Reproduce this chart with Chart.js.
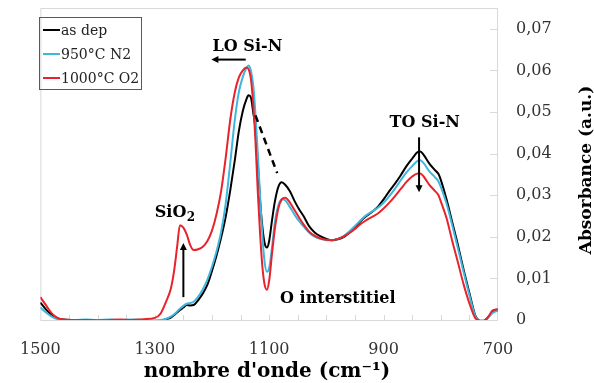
<!DOCTYPE html>
<html>
<head>
<meta charset="utf-8">
<script src="https://cdn.jsdelivr.net/npm/chart.js@4.4.1/dist/chart.umd.min.js"></script>
<style>
  body { margin: 0; background: #fff; }
  canvas { display: block; }
</style>
</head>
<body>
<canvas id="ftir" width="594" height="383"></canvas>
<script>
// Wavenumbers (cm-1), shared by the three spectra
const wavenumbers = [1500, 1490, 1480, 1470, 1460, 1440, 1420, 1400, 1380, 1360, 1340, 1320, 1300, 1290, 1280, 1272, 1266, 1261, 1256, 1250,
  1244, 1238, 1232, 1224, 1216, 1208, 1200, 1192, 1184, 1176, 1168, 1160, 1153, 1146, 1140, 1136, 1132, 1128, 1124, 1120,
  1116, 1112, 1108, 1104, 1100, 1095, 1090, 1084, 1078, 1072, 1064, 1056, 1048, 1040, 1030, 1020, 1010, 1000, 990, 980,
  970, 960, 950, 940, 930, 920, 910, 900, 890, 880, 870, 860, 850, 840, 836, 830, 820, 810, 804, 800,
  790, 780, 770, 760, 750, 740, 735, 730, 725, 720, 715, 710, 705, 700];

// Absorbance, as deposited
const asDep = [0.0042, 0.0025, 0.0012, 0.0004, 0.0001, 0.0000, -0.0001, 0.0000, -0.0001, 0.0000, 0.0000, -0.0001, -0.0003, -0.0002, 0.0002, 0.0006, 0.0012, 0.0018, 0.0024, 0.0030,
  0.0036, 0.0035, 0.0036, 0.0048, 0.0064, 0.0085, 0.0118, 0.0155, 0.0198, 0.0248, 0.0312, 0.0385, 0.0454, 0.0503, 0.0530, 0.0540, 0.0535, 0.0500, 0.0460, 0.0380,
  0.0290, 0.0225, 0.0185, 0.0174, 0.0190, 0.0240, 0.0285, 0.0320, 0.0331, 0.0325, 0.0310, 0.0287, 0.0267, 0.0250, 0.0225, 0.0210, 0.0201, 0.0195, 0.0192, 0.0194,
  0.0199, 0.0210, 0.0222, 0.0238, 0.0250, 0.0260, 0.0272, 0.0290, 0.0310, 0.0328, 0.0348, 0.0370, 0.0388, 0.0404, 0.0405, 0.0397, 0.0376, 0.0360, 0.0351, 0.0337,
  0.0290, 0.0235, 0.0180, 0.0120, 0.0065, 0.0012, 0.0001, -0.0002, -0.0002, 0.0003, 0.0010, 0.0018, 0.0022, 0.0024];

// Absorbance, annealed 950°C N2
const n2_950 = [0.0030, 0.0018, 0.0008, 0.0002, 0.0000, 0.0000, 0.0001, 0.0000, 0.0001, 0.0000, 0.0001, 0.0000, -0.0001, 0.0000, 0.0003, 0.0008, 0.0014, 0.0020, 0.0027, 0.0034,
  0.0039, 0.0041, 0.0044, 0.0056, 0.0074, 0.0097, 0.0128, 0.0165, 0.0212, 0.0280, 0.0378, 0.0482, 0.0548, 0.0585, 0.0605, 0.0612, 0.0600, 0.0565, 0.0495, 0.0400,
  0.0300, 0.0205, 0.0140, 0.0116, 0.0125, 0.0175, 0.0235, 0.0275, 0.0290, 0.0288, 0.0272, 0.0254, 0.0238, 0.0225, 0.0210, 0.0200, 0.0195, 0.0192, 0.0192, 0.0195,
  0.0201, 0.0213, 0.0226, 0.0240, 0.0252, 0.0261, 0.0270, 0.0282, 0.0298, 0.0316, 0.0336, 0.0355, 0.0370, 0.0383, 0.0384, 0.0377, 0.0357, 0.0343, 0.0333, 0.0320,
  0.0280, 0.0228, 0.0172, 0.0115, 0.0060, 0.0010, 0.0000, -0.0003, -0.0003, 0.0002, 0.0009, 0.0016, 0.0020, 0.0022];

// Absorbance, annealed 1000°C O2
const o2_1000 = [0.0055, 0.0035, 0.0016, 0.0005, 0.0001, 0.0000, 0.0000, -0.0001, 0.0000, 0.0001, 0.0000, 0.0002, 0.0005, 0.0015, 0.0045, 0.0075, 0.0120, 0.0175, 0.0228, 0.0222,
  0.0205, 0.0180, 0.0168, 0.0170, 0.0176, 0.0190, 0.0215, 0.0255, 0.0310, 0.0390, 0.0482, 0.0548, 0.0583, 0.0600, 0.0607, 0.0603, 0.0580, 0.0520, 0.0430, 0.0310,
  0.0210, 0.0130, 0.0085, 0.0073, 0.0095, 0.0160, 0.0220, 0.0268, 0.0290, 0.0294, 0.0283, 0.0265, 0.0247, 0.0230, 0.0212, 0.0202, 0.0196, 0.0193, 0.0192, 0.0195,
  0.0201, 0.0209, 0.0219, 0.0231, 0.0240, 0.0248, 0.0256, 0.0268, 0.0282, 0.0298, 0.0315, 0.0332, 0.0345, 0.0352, 0.0352, 0.0345, 0.0325, 0.0310, 0.0300, 0.0285,
  0.0245, 0.0190, 0.0138, 0.0085, 0.0040, 0.0005, 0.0000, -0.0003, -0.0003, 0.0002, 0.0012, 0.0022, 0.0025, 0.0026];

const seriesLabels = ['as dep', '950°C N2', '1000°C O2'];
const seriesColors = ['#000000', '#3fb6dd', '#e8232b'];

const xTickLabels = [1500, 1300, 1100, 900, 700];
const xMinorTicks = [1450, 1400, 1350, 1300, 1250, 1200, 1150, 1100, 1050, 1000, 950, 900, 850, 800, 750];
const yTickLabels = [0, 0.01, 0.02, 0.03, 0.04, 0.05, 0.06, 0.07];

// Annotations, placed in data units (wavenumber, absorbance)
const arrows = [
  { from: [1141, 0.0626], to: [1201, 0.0626] },  // LO shift
  { from: [1250, 0.0055], to: [1250, 0.0185] },  // SiO2 growth
  { from: [838, 0.0439], to: [838, 0.0307] }     // TO decrease
];
const dashedLine = { from: [1124, 0.0492], to: [1086, 0.0353] };
const labels = [
  { text: 'LO Si-N', at: [1138, 0.0647], align: 'center' },
  { text: 'TO Si-N', at: [828, 0.0463], align: 'center' },
  { text: 'O interstitiel', at: [980, 0.0041], align: 'center' }
];
const sio2Label = { at: [1300, 0.0248] };

const toPoints = values => wavenumbers.map((w, i) => ({ x: w, y: values[i] }));
const fmtComma = v => v === 0 ? '0' : v.toFixed(2).replace('.', ',');

const serif = '"DejaVu Serif", "Liberation Serif", serif';

// Plot frame, minor ticks, annotations, legend, axis titles
const decorPlugin = {
  id: 'decor',
  beforeDatasetsDraw(chart) {
    const { ctx, chartArea: a, scales } = chart;
    ctx.save();
    ctx.strokeStyle = '#d9d9d9';
    ctx.lineWidth = 1;
    ctx.strokeRect(a.left + 0.5, a.top + 0.5, a.right - a.left - 1, a.bottom - a.top);
    ctx.beginPath();
    xMinorTicks.forEach(v => {
      const px = Math.round(scales.x.getPixelForValue(v)) + 0.5;
      ctx.moveTo(px, a.bottom);
      ctx.lineTo(px, a.bottom - 5);
    });
    yTickLabels.forEach(v => {
      const py = Math.round(scales.y.getPixelForValue(v)) + 0.5;
      ctx.moveTo(a.right - 8, py);
      ctx.lineTo(a.right, py);
    });
    ctx.stroke();
    ctx.restore();
  },
  afterDatasetsDraw(chart) {
    const { ctx, scales } = chart;
    const px = p => [scales.x.getPixelForValue(p[0]), scales.y.getPixelForValue(p[1])];
    ctx.save();

    // dashed guide between the LO peak and shoulder
    const d0 = px(dashedLine.from), d1 = px(dashedLine.to);
    ctx.strokeStyle = '#000';
    ctx.lineWidth = 2.5;
    ctx.setLineDash([7, 5]);
    ctx.beginPath();
    ctx.moveTo(d0[0], d0[1]);
    ctx.lineTo(d1[0], d1[1]);
    ctx.stroke();
    ctx.setLineDash([]);

    // arrows
    ctx.lineWidth = 2;
    ctx.fillStyle = '#000';
    arrows.forEach(ar => {
      const [x0, y0] = px(ar.from), [x1, y1] = px(ar.to);
      const ang = Math.atan2(y1 - y0, x1 - x0);
      const head = 7;
      ctx.beginPath();
      ctx.moveTo(x0, y0);
      ctx.lineTo(x1 - Math.cos(ang) * head * 0.8, y1 - Math.sin(ang) * head * 0.8);
      ctx.stroke();
      ctx.beginPath();
      ctx.moveTo(x1, y1);
      ctx.lineTo(x1 - head * Math.cos(ang) + 3.5 * Math.sin(ang), y1 - head * Math.sin(ang) - 3.5 * Math.cos(ang));
      ctx.lineTo(x1 - head * Math.cos(ang) - 3.5 * Math.sin(ang), y1 - head * Math.sin(ang) + 3.5 * Math.cos(ang));
      ctx.closePath();
      ctx.fill();
    });

    // text labels
    ctx.font = 'bold 16px ' + serif;
    ctx.textBaseline = 'alphabetic';
    labels.forEach(l => {
      const [x, y] = px(l.at);
      ctx.textAlign = l.align;
      ctx.fillText(l.text, x, y);
    });
    const [sx, sy] = px(sio2Label.at);
    ctx.textAlign = 'left';
    ctx.fillText('SiO', sx, sy);
    const w = ctx.measureText('SiO').width;
    ctx.font = 'bold 12px ' + serif;
    ctx.fillText('2', sx + w + 0.5, sy + 4);

    // legend
    ctx.strokeStyle = '#595959';
    ctx.lineWidth = 1;
    ctx.strokeRect(39.5, 17.5, 102, 72);
    ctx.font = '14px ' + serif;
    ctx.textBaseline = 'middle';
    ctx.textAlign = 'left';
    chart.data.datasets.forEach((ds, i) => {
      const yy = 30 + i * 24;
      ctx.strokeStyle = ds.borderColor;
      ctx.lineWidth = 2;
      ctx.beginPath();
      ctx.moveTo(43, yy);
      ctx.lineTo(60, yy);
      ctx.stroke();
      ctx.fillStyle = '#222';
      ctx.fillText(ds.label, 61, yy + 1);
    });

    // axis titles
    ctx.fillStyle = '#000';
    ctx.font = 'bold 20px ' + serif;
    ctx.textAlign = 'center';
    ctx.textBaseline = 'alphabetic';
    ctx.fillText("nombre d'onde (cm⁻¹)", 267, 377);
    ctx.translate(591, 170);
    ctx.rotate(-Math.PI / 2);
    ctx.font = 'bold 17px ' + serif;
    ctx.fillText('Absorbance (a.u.)', 0, 0);
    ctx.restore();
  }
};

const series = [asDep, n2_950, o2_1000];

new Chart(document.getElementById('ftir'), {
  type: 'line',
  data: {
    datasets: series.map((vals, i) => ({
      label: seriesLabels[i],
      data: toPoints(vals),
      borderColor: seriesColors[i],
      backgroundColor: seriesColors[i],
      borderWidth: 2,
      pointRadius: 0,
      cubicInterpolationMode: 'monotone',
      order: 3 - i
    }))
  },
  options: {
    responsive: false,
    animation: false,
    devicePixelRatio: 1,
    layout: { padding: { left: 30, top: 8, right: 0, bottom: 0 } },
    plugins: {
      legend: { display: false },
      tooltip: { enabled: false }
    },
    scales: {
      x: {
        type: 'linear',
        reverse: true,
        min: 700,
        max: 1500,
        afterBuildTicks: s => { s.ticks = xTickLabels.map(v => ({ value: v })); },
        afterFit: s => { s.height = 63; },
        grid: { display: false, drawTicks: false },
        border: { display: false },
        ticks: {
          autoSkip: false,
          maxRotation: 0,
          padding: 20,
          color: '#333',
          font: { family: serif, size: 16 },
          callback: v => String(v)
        }
      },
      y: {
        position: 'right',
        min: 0,
        max: 0.075,
        afterBuildTicks: s => { s.ticks = yTickLabels.map(v => ({ value: v })); },
        afterFit: s => { s.width = 96; s.paddingTop = 8; s.paddingBottom = 0; },
        grid: { display: false, drawTicks: false },
        border: { display: false },
        ticks: {
          padding: 18,
          color: '#333',
          font: { family: serif, size: 16 },
          callback: v => fmtComma(v)
        }
      }
    }
  },
  plugins: [decorPlugin]
});
</script>
</body>
</html>
